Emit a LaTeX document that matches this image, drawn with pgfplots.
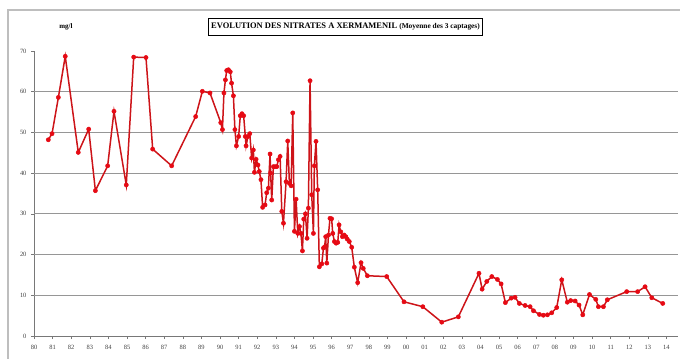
\documentclass[border=0pt]{standalone}
\usepackage{fontspec}
\setmainfont{Liberation Serif}
\usepackage{pgfplots}
\pgfplotsset{compat=1.18}
\definecolor{linered}{RGB}{205,20,25}
\definecolor{markred}{RGB}{230,10,20}
\definecolor{gridgray}{RGB}{150,150,150}
\definecolor{axisgray}{RGB}{120,120,120}
\definecolor{framegray}{RGB}{190,190,190}
\begin{document}
\begin{tikzpicture}[x=1bp,y=1bp]
\useasboundingbox (0,0) rectangle (680,358);
\draw[framegray, line width=1.6bp] (8,-5) -- (8,348) -- (690,348);
\node[draw=black, line width=0.9bp, inner xsep=3bp, inner ysep=4.5bp, font=\bfseries\fontsize{8.5}{10}\selectfont] at (345.5,331) {EVOLUTION DES NITRATES A XERMAMENIL {\fontsize{7.4}{9}\selectfont(Moyenne des 3 captages)}};
\node[font=\bfseries\fontsize{7}{8}\selectfont] at (66,331) {mg/l};
\begin{axis}[at={(34bp,22bp)}, anchor=south west, scale only axis,
  width=644bp, height=285bp,
  xmin=80, xmax=114.62, ymin=0, ymax=70,
  axis x line*=bottom, axis y line*=left,
  axis line style={axisgray, line width=0.8bp},
  tick align=outside, major tick length=3bp,
  tick style={axisgray, line width=0.6bp},
  xtick={80,...,114},
  xticklabels={80,81,82,83,84,85,86,87,88,89,90,91,92,93,94,95,96,97,98,99,00,01,02,03,04,05,06,07,08,09,10,11,12,13,14},
  ytick={0,10,...,70},
  extra y ticks={10,20,30,40,50,60},
  extra y tick labels={},
  extra y tick style={grid=major, major tick length=0bp},
  major grid style={gridgray, line width=0.8bp},
  /pgf/number format/assume math mode=true,
  ticklabel style={font=\fontsize{6.5}{7.5}\selectfont, text=black!75},
  xticklabel style={yshift=-3bp},
  yticklabel style={xshift=-1bp},
  clip=false,
]
\addplot[color=linered, line width=1.5bp, mark=*, mark size=2.1bp, mark options={fill=markred, draw=markred, line width=0.5bp}] coordinates {
(80.77,48.2) (80.97,49.7) (81.31,58.6) (81.68,68.7) (82.38,45.1) (82.94,50.8)
(83.30,35.7) (83.96,41.8) (84.30,55.2) (84.96,37.1) (85.36,68.5) (86.02,68.4)
(86.38,45.9) (87.40,41.8) (88.69,53.9) (89.05,60.1) (89.46,59.7) (90.04,52.4)
(90.13,50.7) (90.21,59.7) (90.29,62.9) (90.36,65.2) (90.45,65.4) (90.55,64.9)
(90.62,62.1) (90.72,59.0) (90.80,50.7) (90.88,46.7) (91.00,49.0) (91.09,54.1)
(91.18,54.6) (91.27,54.1) (91.36,49.0) (91.40,46.7) (91.50,49.0) (91.60,49.7)
(91.70,43.7) (91.79,45.7) (91.85,40.2) (91.94,43.4) (92.04,42.0) (92.11,40.4)
(92.20,38.4) (92.29,31.6) (92.42,32.2) (92.51,35.2) (92.60,36.3) (92.69,44.7)
(92.72,40.0) (92.78,33.4) (92.87,41.6) (92.96,41.6) (93.05,41.6) (93.14,43.3)
(93.23,44.1) (93.32,30.6) (93.41,27.7) (93.55,37.9) (93.64,47.9) (93.73,37.5)
(93.82,36.9) (93.91,54.8) (94.00,25.7) (94.09,33.6) (94.18,25.2) (94.27,26.9)
(94.35,25.2) (94.43,20.9) (94.50,28.7) (94.59,30.0) (94.68,24.0) (94.75,31.4)
(94.84,62.7) (94.93,34.7) (95.02,25.2) (95.07,41.8) (95.16,47.8) (95.25,35.9)
(95.34,17.0) (95.47,17.7) (95.56,21.6) (95.62,21.9) (95.68,24.4) (95.74,17.9)
(95.83,24.8) (95.91,28.9) (96.00,28.8) (96.06,25.2) (96.15,23.2) (96.24,22.8)
(96.33,23.0) (96.40,27.3) (96.49,25.6) (96.58,24.4) (96.67,24.8) (96.76,24.4)
(96.84,23.8) (96.95,23.2) (97.08,21.8) (97.22,16.9) (97.40,13.1) (97.58,18.0)
(97.70,16.6) (97.92,14.8) (98.96,14.6) (99.89,8.4) (100.90,7.2) (101.92,3.4)
(102.81,4.7) (103.92,15.4) (104.09,11.5) (104.34,13.4) (104.61,14.6) (104.91,13.9)
(105.11,12.8) (105.34,8.2) (105.65,9.3) (105.86,9.5) (106.09,8.0) (106.40,7.5)
(106.67,7.2) (106.85,6.2) (107.17,5.3) (107.38,5.1) (107.60,5.2) (107.83,5.7)
(108.10,7.0) (108.37,13.8) (108.67,8.3) (108.85,8.7) (109.09,8.6) (109.30,7.6)
(109.50,5.2) (109.86,10.2) (110.20,9.0) (110.34,7.2) (110.61,7.2) (110.82,8.9)
(111.86,10.9) (112.45,10.9) (112.85,12.1) (113.21,9.4) (113.80,8.0)
};
\end{axis}
\end{tikzpicture}
\end{document}
